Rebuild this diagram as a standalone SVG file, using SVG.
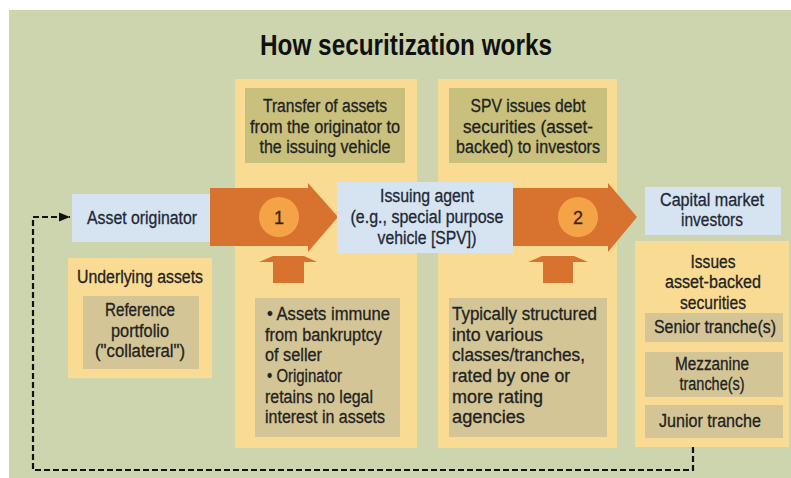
<svg xmlns="http://www.w3.org/2000/svg" width="791" height="478" viewBox="0 0 791 478">
<style>
.t{font-family:"Liberation Sans Narrow","Liberation Sans",Arial,sans-serif;font-size:18px;fill:#222;stroke:#222;stroke-width:0.3;}
.c{text-anchor:middle;}
.b{fill:#1e2836;stroke:#1e2836;}
.ttl{font-family:"Liberation Sans Narrow","Liberation Sans",Arial,sans-serif;font-size:29px;font-weight:bold;fill:#111;text-anchor:middle;}
.panel{fill:#fadb93;}
.olive{fill:#c8c07c;}
.tan{fill:#d4c597;}
.blue{fill:#d6e3f1;}
.orange{fill:#d8722f;}
.circ{fill:#f5a347;}
.dash{fill:none;stroke:#111;stroke-width:2.2;stroke-dasharray:6 3;}
</style>
<defs>
<marker id="ah" viewBox="0 0 10 10" refX="10" refY="5" markerWidth="5" markerHeight="5" markerUnits="strokeWidth" orient="auto">
<path d="M0,1 L10,5 L0,9 z" fill="#111"/>
</marker>
</defs>
<rect x="0" y="0" width="791" height="478" fill="#ffffff"/>
<rect x="9" y="10" width="782" height="468" fill="#cdd5ae"/>
<text class="ttl" x="406" y="55" textLength="292" lengthAdjust="spacingAndGlyphs">How securitization works</text>

<g id="panel-transfer">
<rect class="panel" x="235" y="79" width="182" height="369"/>
<rect class="olive" x="245" y="88" width="160" height="75"/>
<text class="t c" x="325" y="112" textLength="124" lengthAdjust="spacingAndGlyphs">Transfer of assets</text>
<text class="t c" x="325" y="133" textLength="150" lengthAdjust="spacingAndGlyphs">from the originator to</text>
<text class="t c" x="325" y="153" textLength="131" lengthAdjust="spacingAndGlyphs">the issuing vehicle</text>
<rect class="tan" x="255" y="298" width="145" height="139"/>
<text class="t" x="267" y="320" textLength="123" lengthAdjust="spacingAndGlyphs">• Assets immune</text>
<text class="t" x="265" y="341" textLength="117" lengthAdjust="spacingAndGlyphs">from bankruptcy</text>
<text class="t" x="265" y="361" textLength="57" lengthAdjust="spacingAndGlyphs">of seller</text>
<text class="t" x="267" y="382" textLength="75" lengthAdjust="spacingAndGlyphs">• Originator</text>
<text class="t" x="265" y="403" textLength="108" lengthAdjust="spacingAndGlyphs">retains no legal</text>
<text class="t" x="265" y="423" textLength="120" lengthAdjust="spacingAndGlyphs">interest in assets</text>
<polygon class="orange" points="259,262 273,256 304,256 317,262 304,262 304,283 273,283 273,262"/>
</g>

<g id="panel-spv">
<rect class="panel" x="438" y="79" width="179" height="369"/>
<rect class="olive" x="449" y="88" width="158" height="75"/>
<text class="t c" x="528" y="112" textLength="115" lengthAdjust="spacingAndGlyphs">SPV issues debt</text>
<text class="t c" x="528" y="133" textLength="130" lengthAdjust="spacingAndGlyphs">securities (asset-</text>
<text class="t c" x="528" y="153" textLength="144" lengthAdjust="spacingAndGlyphs">backed) to investors</text>
<rect class="tan" x="449" y="298" width="158" height="139"/>
<text class="t" x="452" y="320" textLength="145" lengthAdjust="spacingAndGlyphs">Typically structured</text>
<text class="t" x="452" y="341" textLength="91" lengthAdjust="spacingAndGlyphs">into various</text>
<text class="t" x="452" y="361" textLength="133" lengthAdjust="spacingAndGlyphs">classes/tranches,</text>
<text class="t" x="452" y="382" textLength="118" lengthAdjust="spacingAndGlyphs">rated by one or</text>
<text class="t" x="452" y="403" textLength="91" lengthAdjust="spacingAndGlyphs">more rating</text>
<text class="t" x="452" y="423" textLength="73" lengthAdjust="spacingAndGlyphs">agencies</text>
<polygon class="orange" points="528,262 542,256 574,256 588,262 573,262 573,283 543,283 543,262"/>
</g>

<g id="underlying-assets">
<rect class="panel" x="68" y="258" width="144" height="120"/>
<text class="t c" x="140" y="283" textLength="126" lengthAdjust="spacingAndGlyphs">Underlying assets</text>
<rect class="tan" x="83" y="296" width="116" height="73"/>
<text class="t c" x="140" y="316" textLength="70" lengthAdjust="spacingAndGlyphs">Reference</text>
<text class="t c" x="140" y="337" textLength="58" lengthAdjust="spacingAndGlyphs">portfolio</text>
<text class="t c" x="140" y="357" textLength="90" lengthAdjust="spacingAndGlyphs">("collateral")</text>
</g>

<g id="issues-abs">
<rect class="panel" x="635" y="241" width="154" height="206"/>
<text class="t c" x="713" y="268" textLength="45" lengthAdjust="spacingAndGlyphs">Issues</text>
<text class="t c" x="713" y="288" textLength="96" lengthAdjust="spacingAndGlyphs">asset-backed</text>
<text class="t c" x="713" y="309" textLength="66" lengthAdjust="spacingAndGlyphs">securities</text>
<rect class="tan" x="645" y="313" width="138" height="29"/>
<text class="t c" x="715" y="333" textLength="122" lengthAdjust="spacingAndGlyphs">Senior tranche(s)</text>
<rect class="tan" x="645" y="352" width="138" height="45"/>
<text class="t c" x="712" y="370" textLength="74" lengthAdjust="spacingAndGlyphs">Mezzanine</text>
<text class="t c" x="712" y="390" textLength="65" lengthAdjust="spacingAndGlyphs">tranche(s)</text>
<rect class="tan" x="645" y="405" width="138" height="33"/>
<text class="t c" x="710" y="427" textLength="102" lengthAdjust="spacingAndGlyphs">Junior tranche</text>
</g>

<g id="connectors">
<polygon id="arrow-1" class="orange" points="210,188 308,188 308,183 338,217 308,252 308,246 210,246"/>
<polygon id="arrow-2" class="orange" points="513,188 608,188 608,183 637,217 608,252 608,246 513,246"/>
<path id="return-flow" class="dash" d="M693,447 V470 H33 V217 H70" marker-end="url(#ah)"/>
</g>

<g id="step-1">
<circle class="circ" cx="279" cy="217" r="20"/>
<text class="t c" x="279" y="224" style="fill:#3a2410;stroke:#3a2410">1</text>
</g>
<g id="step-2">
<circle class="circ" cx="578" cy="217" r="20"/>
<text class="t c" x="578" y="224" style="fill:#3a2410;stroke:#3a2410">2</text>
</g>

<g id="asset-originator">
<rect class="blue" x="72" y="194" width="138" height="48"/>
<text class="t c b" x="142" y="224" textLength="110" lengthAdjust="spacingAndGlyphs">Asset originator</text>
</g>

<g id="issuing-agent">
<rect class="blue" x="337" y="182" width="176" height="71"/>
<text class="t c b" x="427" y="202" textLength="94" lengthAdjust="spacingAndGlyphs">Issuing agent</text>
<text class="t c b" x="427" y="223" textLength="153" lengthAdjust="spacingAndGlyphs">(e.g., special purpose</text>
<text class="t c b" x="427" y="244" textLength="99" lengthAdjust="spacingAndGlyphs">vehicle [SPV])</text>
</g>

<g id="capital-market-investors">
<rect class="blue" x="645" y="187" width="136" height="48"/>
<text class="t c b" x="712" y="206" textLength="104" lengthAdjust="spacingAndGlyphs">Capital market</text>
<text class="t c b" x="712" y="226" textLength="62" lengthAdjust="spacingAndGlyphs">investors</text>
</g>
</svg>
